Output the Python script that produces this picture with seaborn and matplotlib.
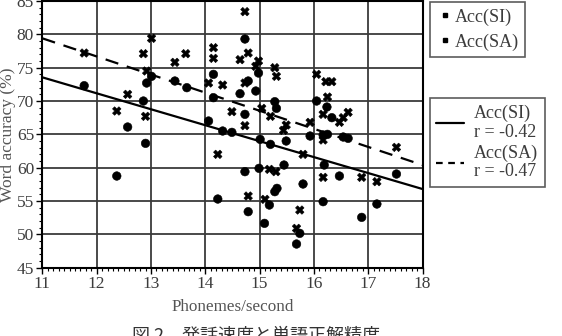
import numpy as np
import pandas as pd
import matplotlib
matplotlib.use('Agg')
import matplotlib.pyplot as plt
import seaborn as sns
from matplotlib.lines import Line2D
from matplotlib.ticker import MultipleLocator

# ---- data ----
si_x = [11.77, 12.57, 12.86, 12.90, 12.92, 13.01, 13.44, 13.66, 12.37,
        14.73, 14.15, 14.15, 14.06, 14.32, 14.49, 14.98, 14.79, 14.64, 14.93,
        14.73, 15.28, 15.31, 15.01, 15.20, 15.49, 16.05, 16.24, 16.33, 15.93,
        16.17, 16.25, 16.54, 16.63, 16.19, 14.73, 14.99, 15.45, 16.47, 17.52,
        15.80, 15.28, 15.32, 15.18, 14.23, 14.79, 16.17, 17.16, 16.88, 15.09,
        15.74, 15.68]
si_y = [72.3, 66.1, 70.0, 63.65, 72.7, 73.7, 73.0, 72.0, 58.75,
        79.3, 74.0, 70.5, 67.0, 65.5, 65.3, 74.2, 73.0, 71.1, 71.5,
        68.0, 69.9, 68.9, 64.25, 63.5, 64.0, 70.0, 69.1, 67.5, 64.75,
        64.9, 65.0, 64.6, 64.4, 60.4, 59.4, 59.9, 60.4, 58.75, 59.05,
        57.55, 56.4, 56.9, 54.4, 55.3, 53.4, 54.9, 54.55, 52.55, 51.65,
        50.15, 48.55]
sa_x = [11.77, 12.57, 12.37, 12.90, 12.86, 13.01, 12.92, 13.44, 13.64,
        14.73, 14.15, 14.15, 14.06, 14.32, 14.49, 14.64, 14.79, 14.98, 14.93,
        14.73, 14.73, 15.04, 15.20, 15.28, 15.31, 15.49, 15.44, 15.80, 14.23,
        16.05, 16.22, 16.33, 16.25, 16.17, 16.54, 16.63, 16.47, 15.93, 16.17,
        17.52, 15.18, 15.30, 16.17, 16.88, 17.16, 14.79, 15.10, 15.74, 15.68]
sa_y = [77.2, 71.0, 68.5, 67.7, 77.1, 79.4, 74.5, 75.8, 77.1,
        83.4, 78.0, 76.4, 72.7, 72.4, 68.4, 76.2, 77.2, 76.0, 75.2,
        72.7, 66.3, 68.9, 67.7, 75.0, 73.7, 66.4, 65.6, 62.0, 62.0,
        74.0, 72.9, 72.9, 70.6, 68.0, 67.5, 68.3, 66.8, 66.8, 64.15,
        63.05, 59.75, 59.4, 58.55, 58.55, 57.9, 55.75, 55.25, 53.65, 50.9]

# regression lines (end points)
fit_x = [11, 18]
fit_si = [73.55, 56.8]
fit_sa = [79.4, 60.4]
r_si = -0.42
r_sa = -0.47

x_ticks = [11, 12, 13, 14, 15, 16, 17, 18]
y_ticks = [45, 50, 55, 60, 65, 70, 75, 80, 85]
caption = "図 2　発話速度と単語正解精度"

# ---- style ----
sns.set_theme(style='white')
plt.rcParams['font.family'] = ['Liberation Serif', 'Noto Sans CJK JP', 'DejaVu Sans']
plt.rcParams['axes.grid'] = True

df = pd.DataFrame({
    'x': si_x + sa_x,
    'y': si_y + sa_y,
    'series': ['Acc(SI)'] * len(si_x) + ['Acc(SA)'] * len(sa_x),
})

fig = plt.figure(figsize=(5.62, 3.36), dpi=100)
ax = fig.add_axes([0.0754, 0.2033, 0.6764, 0.7937])

sns.scatterplot(data=df, x='x', y='y', style='series',
                markers={'Acc(SI)': 'o', 'Acc(SA)': 'X'},
                color='black', s=38, edgecolor='black', linewidth=0.4,
                legend=False, ax=ax, zorder=3)

ax.plot(fit_x, fit_si, color='black', linewidth=1.6, linestyle='-', zorder=4)
ax.plot(fit_x, fit_sa, color='black', linewidth=1.6, linestyle=(0, (6, 4)), zorder=4)

ax.set_xlim(11, 18)
ax.set_ylim(45, 85)
ax.set_xticks(x_ticks)
ax.set_yticks(y_ticks)
ax.xaxis.set_minor_locator(MultipleLocator(0.1))
ax.yaxis.set_minor_locator(MultipleLocator(1))
ax.set_axisbelow(True)
ax.grid(visible=True, which='major', axis='both', color='#3a3a3a',
        linewidth=1.3, linestyle='-')
ax.grid(visible=False, which='minor')

for s in ax.spines.values():
    s.set_color('black')
    s.set_linewidth(1.5)

ax.tick_params(axis='both', which='major', direction='out', length=4, width=1.0,
               color='black', labelsize=12.5, labelcolor='#3c3c3c', pad=2,
               left=True, bottom=True)
ax.tick_params(axis='both', which='minor', direction='out', length=2.5, width=0.8,
               color='black', left=True, bottom=True)
ax.set_xlabel('Phonemes/second', fontsize=12.3, color='#555555', labelpad=5)
ax.set_ylabel('Word accuracy (%)', fontsize=12.5, color='#555555', labelpad=2)
ax.yaxis.set_label_coords(-0.069, 0.5)

# legend 1: markers
h1 = [Line2D([], [], marker='s', linestyle='', color='black', markersize=3),
      Line2D([], [], marker='s', linestyle='', color='black', markersize=3)]
leg1 = fig.legend(h1, ['Acc(SI)', 'Acc(SA)'], loc='upper left',
                  bbox_to_anchor=(430 / 562, 1 - 2 / 336), frameon=True,
                  fancybox=False, edgecolor='#333333', fontsize=13,
                  handlelength=0.95, handletextpad=0.05, borderpad=0.35,
                  labelspacing=0.42, borderaxespad=0)
leg1.get_frame().set_linewidth(1.2)
for t in leg1.get_texts():
    t.set_color('#3c3c3c')

# legend 2: regression lines
h2 = [Line2D([], [], color='black', linewidth=1.6, linestyle='-'),
      Line2D([], [], color='black', linewidth=1.6, linestyle=(0, (3, 2.5)))]
leg2 = fig.legend(h2, [f'Acc(SI)\nr = {r_si:.2f}', f'Acc(SA)\nr = {r_sa:.2f}'],
                  loc='upper left', bbox_to_anchor=(430 / 562, 1 - 98 / 336),
                  frameon=True, fancybox=False, edgecolor='#333333', fontsize=13,
                  handlelength=1.55, handletextpad=0.55, borderpad=0.35,
                  labelspacing=0.2, borderaxespad=0)
leg2.get_frame().set_linewidth(1.2)
for t in leg2.get_texts():
    t.set_color('#3c3c3c')
    t.set_linespacing(1.15)
    t.set_multialignment('left')

fig.text(132 / 562, 1 - 327 / 336, caption, ha='left', va='top',
         fontsize=13, color='#333333',
         family=['Noto Sans CJK JP', 'DejaVu Sans'])

fig.savefig('out.png', dpi=100)
